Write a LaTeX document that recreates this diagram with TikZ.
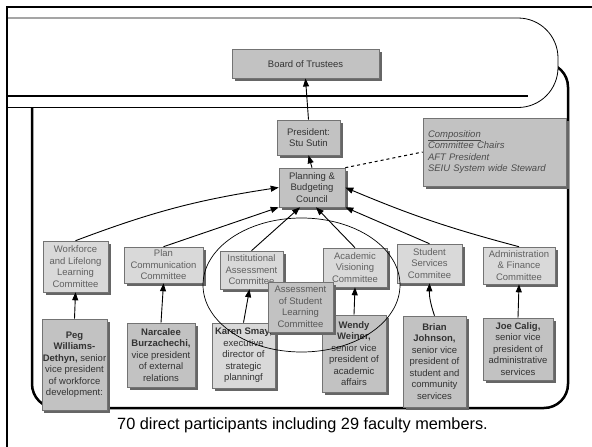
\documentclass[tikz,border=0pt]{standalone}
\usepackage{fontspec}
\setmainfont{Liberation Sans}
\usetikzlibrary{arrows.meta,shadows}

\begin{document}
\begin{tikzpicture}[x=1pt,y=-1pt,
  box/.style={draw=black!55,line width=0.6pt,inner sep=1pt,align=center,
    font=\fontsize{9.5}{11.5}\selectfont,
    drop shadow={shadow xshift=2.5pt,shadow yshift=-2.5pt,fill=black!60,opacity=1}},
  cbox/.style={box,fill=black!15,text=black!62},
  pbox/.style={box,fill=black!24,text=black!80},
  arr/.style={-{Triangle[length=8pt,width=6pt]},line width=0.9pt},
  frame/.style={line width=2.5pt}]
\useasboundingbox (0,0) rectangle (592,447);

% frames
\draw[frame,rounded corners=24pt] (32,63) rectangle (568,408);
\filldraw[fill=white,draw=black,line width=0.8pt,rounded corners=40pt]
  (7,18) -- (558,18) -- (558,107.5) -- (7,107.5);
\draw[frame] (7,96) -- (528,96);
\draw[frame] (7,447) -- (7,7) -- (592,7);

% top
\node(board) at (305.5,64)[pbox,minimum width=147,minimum height=28.5] {Board of Trustees};
\node(pres) at (308.5,137.5)[pbox,minimum width=63,minimum height=35] {President:\\Stu Sutin};
\node(plan) at (312,187.5)[pbox,minimum width=66,minimum height=39] {Planning \&\\Budgeting\\Council};
\node(comp) at (494.5,152)[pbox,minimum height=68,inner xsep=5pt,text width=133pt,align=left,
  font=\fontsize{9.5}{11.5}\selectfont\itshape,text=black!70]
  {\underline{Composition}\\Committee Chairs\\AFT President\\SEIU System wide Steward};

% committees
\node(wf) at (75.5,266.5)[cbox,minimum width=65,minimum height=51] {Workforce\\and Lifelong\\Learning\\Committee};
\node(pcc) at (163.5,265)[cbox,minimum width=79,minimum height=36] {Plan\\Communication\\Committee};
\node(iac) at (251.5,270)[cbox,minimum width=63,minimum height=38] {Institutional\\Assessment\\Committee};
\node(avc) at (355,267.5)[cbox,minimum width=64,minimum height=39] {Academic\\Visioning\\Committee};
\node(ssc) at (429.5,263.5)[cbox,minimum width=65,minimum height=39] {Student\\Services\\Commitee};
\node(afc) at (519,265.5)[cbox,minimum width=72,minimum height=37] {Administration\\\& Finance\\Committee};

% people
\node(peg) at (74.5,364.5)[pbox,minimum width=65,minimum height=91]
  {\textbf{Peg}\\\textbf{Williams-}\\\textbf{Dethyn,} senior\\vice president\\of workforce\\development:};
\node(nb) at (161,355)[pbox,minimum width=68,minimum height=64]
  {\textbf{Narcalee}\\\textbf{Burzachechi,}\\vice president\\of external\\relations};
\node(ks) at (243.5,355.5)[pbox,fill=black!15,minimum width=63,minimum height=65]
  {\textbf{Karen Smay,}\\executive\\director of\\strategic\\planningf};
\node(ww) at (354,353.5)[pbox,minimum width=64,minimum height=77]
  {\textbf{Wendy}\\\textbf{Weiner,}\\senior vice\\president of\\academic\\affairs};
\node(bj) at (434.5,361.5)[pbox,minimum width=63,minimum height=91]
  {\textbf{Brian}\\\textbf{Johnson,}\\senior vice\\president of\\student and\\community\\services};
\node(jc) at (518,349)[pbox,minimum width=70,minimum height=62]
  {\textbf{Joe Calig,}\\senior vice\\president of\\administrative\\services};
\node(asl) at (300.5,307)[pbox,text=black!65,minimum width=65,minimum height=50] {Assessment\\of Student\\Learning\\Committee};

\path [arr]
  (wf.north)   edge [bend left=6] (plan.west)
  (pcc.north)  edge (plan.south west)
  (iac.north)  edge ([xshift=-12pt]plan.south)
  (avc.north)  edge ([xshift=4pt]plan.south)
  (ssc.north)  edge (plan.south east)
  (afc.north)  edge [bend left=4] (plan.east)
  (plan.north) edge (pres.south)
  (pres.north) edge (board.south)
  (peg.north)  edge (wf.south)
  (nb.north)   edge (pcc.south)
  (ks.north)   edge ([xshift=-2pt]iac.south)
  (ww.north)   edge (avc.south)
  (bj.north)   edge [bend left=10] (ssc.south)
  (jc.north)   edge (afc.south);
\path [dashed,line width=1pt] (plan.north east) edge (comp.west);

\draw[line width=0.7pt] (301.5,285) ellipse [x radius=98.5pt,y radius=67pt];

\node(note) at (302.5,425) {\fontsize{16.3}{19}\selectfont 70 direct participants including 29 faculty members.};
\end{tikzpicture}
\end{document}
